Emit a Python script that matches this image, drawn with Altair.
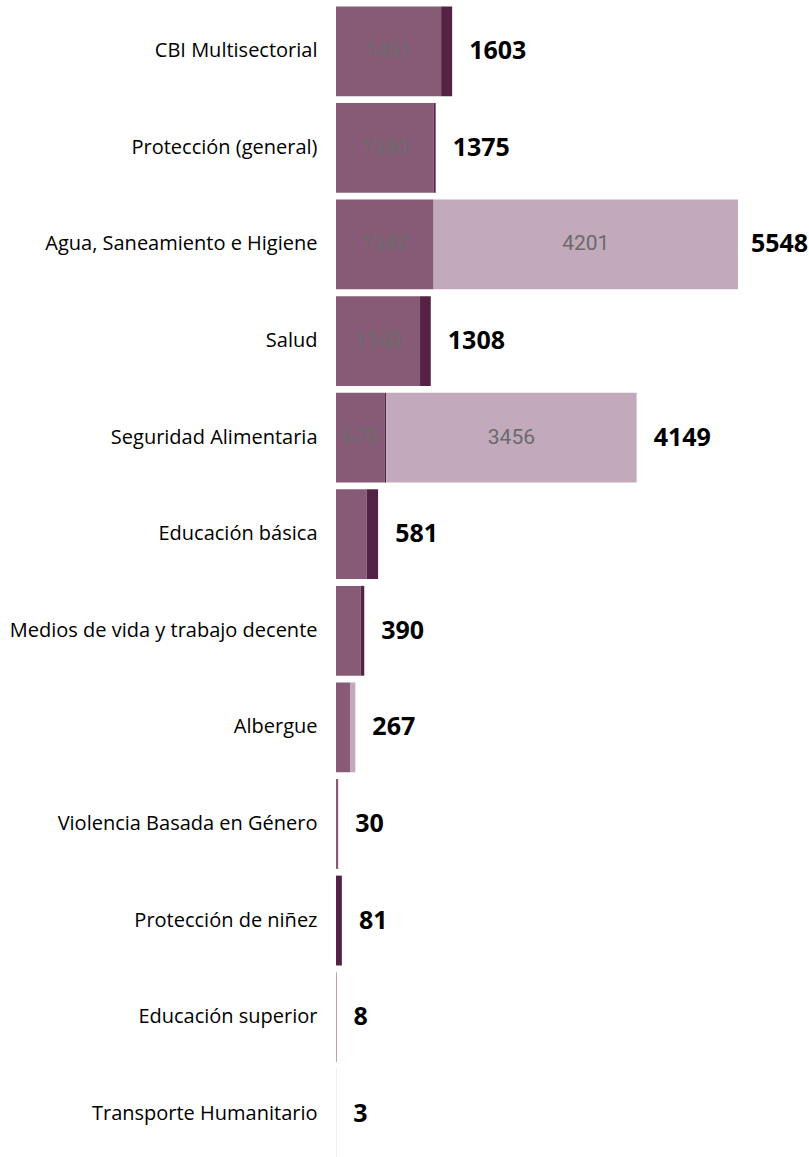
import altair as alt
import pandas as pd

categories = [
    "CBI Multisectorial",
    "Protección (general)",
    "Agua, Saneamiento e Higiene",
    "Salud",
    "Seguridad Alimentaria",
    "Educación básica",
    "Medios de vida y trabajo decente",
    "Albergue",
    "Violencia Basada en Género",
    "Protección de niñez",
    "Educación superior",
    "Transporte Humanitario",
]
medium = [1451, 1350, 1347, 1160, 675, 424, 341, 193, 30, 0, 8, 0]
dark = [152, 25, 0, 148, 18, 157, 49, 0, 0, 81, 0, 0]
light = [0, 0, 4201, 0, 3456, 0, 0, 74, 0, 0, 0, 3]

series = ["medium", "dark", "light"]
colors = ["#875b76", "#532244", "#c2a9bb"]

rows = []
for i, c in enumerate(categories):
    for j, (s, vals) in enumerate(zip(series, [medium, dark, light])):
        rows.append({"category": c, "series": s, "order": j, "value": vals[i]})
df = pd.DataFrame(rows)

y_enc = alt.Y(
    "category:N",
    sort=categories,
    scale=alt.Scale(paddingInner=0.07, paddingOuter=0.035),
    axis=alt.Axis(
        title=None, domain=False, ticks=False, labelPadding=19,
        labelFontSize=20, labelFont="Open Sans", labelColor="black",
        labelLimit=400,
    ),
)
x_scale = alt.Scale(domain=[0, 6528], nice=False, zero=True)

base = alt.Chart(df).transform_stack(
    stack="value",
    groupby=["category"],
    as_=["x0", "x1"],
    sort=[alt.SortField("order", order="ascending")],
)

bars = base.mark_bar().encode(
    y=y_enc,
    x=alt.X("x0:Q", scale=x_scale, axis=None),
    x2="x1:Q",
    color=alt.Color("series:N", scale=alt.Scale(domain=series, range=colors), legend=None),
)

inner = base.transform_filter("datum.value >= 600").transform_calculate(
    mid="(datum.x0 + datum.x1) / 2"
).mark_text(
    font="Roboto", fontSize=21, color="#6b6b6b", align="center", baseline="middle"
).encode(
    y=y_enc,
    x=alt.X("mid:Q", scale=x_scale, axis=None),
    text=alt.Text("value:Q", format="d"),
)

totals = alt.Chart(df).transform_aggregate(
    total="sum(value)", groupby=["category"]
).transform_calculate(
    labelx="min(datum.total + 235, 5727)"
).mark_text(
    font="Open Sans", fontSize=25, fontWeight="bold", color="black",
    align="left", baseline="middle",
).encode(
    y=y_enc,
    x=alt.X("labelx:Q", scale=x_scale, axis=None),
    text=alt.Text("total:Q", format="d"),
)

chart = alt.layer(bars, inner, totals).properties(
    width=473,
    height=1159,
    padding={"left": 336, "top": 3, "right": 0, "bottom": 0},
    autosize="none",
).configure_view(stroke=None)

chart.save("out.html", embed_options={"renderer": "svg", "actions": False})
